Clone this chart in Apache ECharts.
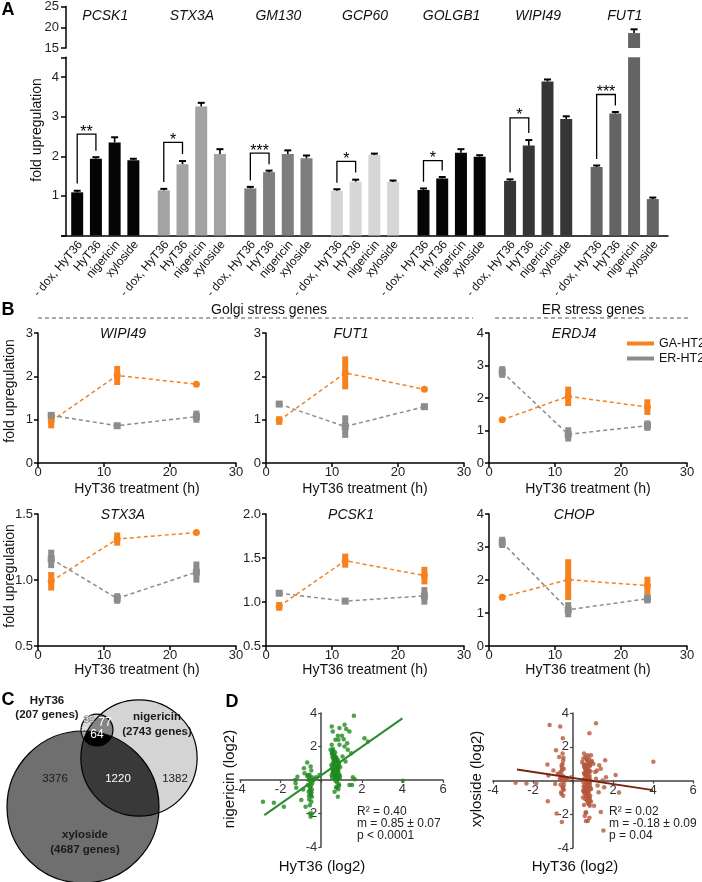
<!DOCTYPE html>
<html><head><meta charset="utf-8">
<script src="https://cdn.jsdelivr.net/npm/echarts@6/dist/echarts.min.js"></script>
<style>html,body{margin:0;padding:0;background:#fff}#c{width:702px;height:882px}</style>
</head><body><div id="c"></div>
<script>
const FONT = '"Liberation Sans", Arial, Helvetica, sans-serif';

// ---------------- Panel A data ----------------
const genesA = ['PCSK1','STX3A','GM130','GCP60','GOLGB1','WIPI49','FUT1'];
const conditionsA = ['- dox, HyT36','HyT36','nigericin','xyloside'];
const doxHyT36     = [1.09,1.14,1.19,1.13,1.15,1.38,1.73];
const doxHyT36Err  = [0.04,0.03,0.02,0.02,0.03,0.03,0.02];
const hyT36        = [1.94,1.80,1.60,1.36,1.44,2.27,3.08];
const hyT36Err     = [0.02,0.08,0.02,0.05,0.02,0.14,0.02];
const nigericin    = [2.35,3.26,2.06,2.03,2.09,3.89,18.6];
const nigericinErr = [0.13,0.09,0.09,0.01,0.09,0.05,0.9];
const xyloside     = [1.90,2.06,1.95,1.35,1.99,2.94,0.92];
const xylosideErr  = [0.02,0.12,0.07,0.02,0.03,0.07,0.02];
const sigStars     = ['**','*','***','*','*','*','***'];
const bracketTop   = [2.56,2.35,2.08,1.87,1.89,2.97,3.56];
const geneColorsA  = ['#050505','#a3a3a3','#7e7e7e','#d6d6d6','#050505','#363636','#646464'];

// ---------------- Panel B data ----------------
const timesB = [2, 12, 24];
const genesB = ['WIPI49','FUT1','ERDJ4','STX3A','PCSK1','CHOP'];
const gaMean = [[0.97,2.02,1.82],[0.98,2.08,1.70],[1.33,2.05,1.72],[0.99,1.31,1.36],[0.95,1.47,1.30],[1.48,2.01,1.83]];
const gaErr  = [[0.17,0.22,0],[0.10,0.38,0],[0,0.30,0.24],[0.07,0.05,0],[0.05,0.08,0.10],[0,0.62,0.27]];
const erMean = [[1.10,0.86,1.07],[1.36,0.84,1.30],[2.80,0.88,1.15],[1.16,0.86,1.06],[1.10,1.01,1.07],[3.14,1.10,1.43]];
const erErr  = [[0.06,0,0.14],[0,0.26,0],[0.18,0.22,0.16],[0.07,0.04,0.08],[0,0,0.10],[0.17,0.23,0.14]];
const yMinB = [0,0,0,0.5,0.5,0];
const yMaxB = [3,3,4,1.5,2,4];
const yIntB = [1,1,1,0.5,0.5,1];
const seriesNamesB = ['GA-HT2','ER-HT2'];

// ---------------- Panel C data ----------------
const vennSets   = ['HyT36','nigericin','xyloside'];
const vennTotals = [207, 2743, 4687];
const vennRegionLabels = ['39','77','64','27','3376','1220','1382'];

// ---------------- Panel D data ----------------
const hytLog2 = [
 -2.87,-2.33,-1.84,-1.28,-1.26,-1.23,-1.17,-0.98,-0.89,-0.85,-0.82,-0.77,-0.69,-0.64,-0.51,-0.56,
 -0.52,-0.49,-0.57,-0.46,-0.62,-0.52,-0.44,-0.66,-0.56,-0.46,-0.62,-0.52,-0.46,-0.59,-0.49,-0.56,-0.46,-0.52,-0.69,-0.55,-0.50,-0.60,-0.48,-0.58,
 -0.39,-0.33,-0.25,-0.08,
 0.52,0.57,0.90,1.15,1.23,1.39,1.61,0.82,1.02,0.70,0.85,1.11,1.28,0.52,0.90,1.15,1.31,0.46,2.13,2.30,1.48,1.52,1.39,1.56,1.65,0.74,0.82,0.66,4.02,1.05,1.20,
 0.55,0.62,0.70,0.78,0.85,0.60,0.66,0.74,0.81,0.58,
 0.64,0.72,0.79,0.88,0.52,0.68,0.75,0.83,0.57,0.63,
 0.71,0.77,0.86,0.50,0.61,0.69,0.76,0.84,0.59,0.65,
 0.73,0.80,0.92,0.54,0.67,0.70,0.78,0.87,0.56,0.62,
 0.74,0.82,0.60,0.68,0.76,0.84,0.53,0.64,0.72,0.79,
 0.58,0.66,0.73,0.81,0.90,0.55,0.63,0.70,0.77,0.85,
 0.61,0.69,0.75,0.83,0.57,0.65,0.71,0.78,0.88,0.52,
 0.60,0.67,0.74,0.80,0.94,0.56,0.64,0.72,0.79,0.86,
 0.59,0.66,0.73,0.82,0.62,0.70,0.76,0.84,0.58,0.68
];
const nigLog2 = [
 -1.30,-1.36,-1.60,0.00,-0.20,-0.46,0.20,-1.20,-0.56,0.70,0.40,-1.60,1.04,0.30,-0.90,-2.00,
 0.80,0.56,0.30,0.16,0.00,-0.10,-0.20,-0.30,-0.44,-0.56,-0.70,-0.84,-1.00,-1.16,-1.30,-1.50,-2.00,-2.20,0.24,-0.60,-0.35,-0.95,-0.75,0.10,
 0.00,0.04,0.16,0.30,
 3.20,2.90,3.10,3.30,3.04,2.90,3.84,2.64,2.64,2.40,2.40,2.44,2.20,2.10,2.10,2.00,1.80,1.80,2.50,2.30,1.60,-0.30,-0.30,0.16,0.05,-0.44,-1.00,-0.70,-0.04,1.40,1.10,
 1.62,1.45,1.30,1.18,1.05,0.95,0.88,0.80,0.72,0.65,
 0.58,0.50,0.42,0.35,0.28,0.20,0.12,0.05,1.55,1.40,
 1.25,1.10,1.00,0.90,0.82,0.75,0.68,0.60,0.52,0.45,
 0.38,0.30,0.22,0.15,0.08,-0.05,-0.15,-0.25,1.70,1.50,
 1.35,1.20,1.08,0.98,0.85,0.78,0.70,0.62,0.55,0.48,
 0.40,0.32,0.25,0.18,0.10,1.38,1.22,1.12,1.02,0.92,
 0.83,0.73,0.63,0.53,0.43,0.33,0.23,0.13,-0.35,1.58,
 1.28,1.15,0.97,0.87,0.77,0.67,0.57,0.47,0.37,0.27,
 1.75,1.48,1.33,0.93,0.76,0.56,-0.45,-0.55,1.85,1.65
];
const xylLog2 = [
 -0.14,-0.18,-0.18,0.95,-1.23,0.30,3.29,0.60,-0.20,1.80,-1.96,0.40,1.40,3.20,2.50,-2.46,
 1.60,1.20,0.90,0.70,0.50,0.30,0.20,0.10,0.00,-0.10,-0.25,-0.40,-0.55,-0.70,-0.90,0.75,-0.30,1.00,0.40,0.60,-0.50,0.15,1.35,-0.80,
 0.05,0.15,0.10,0.20,
 -0.60,0.40,1.50,3.39,-0.30,0.70,1.20,2.80,1.00,0.90,-1.20,0.50,-0.70,1.30,-0.50,0.10,0.91,1.10,0.32,-0.71,0.00,-2.96,-1.87,-0.40,0.20,-2.40,-2.20,-1.90,1.11,-1.50,0.60,
 1.60,1.40,1.20,1.05,0.90,0.80,0.70,0.60,0.50,0.40,
 0.30,0.20,0.10,0.00,-0.10,-0.20,-0.30,-0.40,-0.50,-0.60,
 -0.70,-0.80,-0.90,-1.00,-1.10,-1.20,-1.35,-1.50,-2.10,-2.40,
 1.50,1.30,1.10,0.95,0.85,0.75,0.65,0.55,0.45,0.35,
 0.25,0.15,0.05,-0.05,-0.15,-0.25,-0.35,-0.45,-0.55,-0.65,
 -0.75,-0.85,-0.95,-1.05,-1.25,-1.45,-1.90,1.25,1.00,0.88,
 0.72,0.58,0.42,0.28,0.12,-0.02,-0.18,-0.32,-0.48,-0.62,
 -0.78,-0.92,-1.15,-1.40,1.15,0.82,0.62,0.38,0.18,-0.08,
 -0.28,-0.52,-0.72,-1.02,0.68,0.32,-0.12,-0.42,0.95,0.48
];
const nigFitLine = [[-2.8,-2.10],[4.0,3.68]];
const xylFitLine = [[-2.8,0.65],[4.0,-0.57]];
const nigStats = ['R\u00B2 = 0.40','m = 0.85 \u00B1 0.07','p < 0.0001'];
const xylStats = ['R\u00B2 = 0.02','m = -0.18 \u00B1 0.09','p = 0.04'];

// ================= build chart =================
const chart = echarts.init(document.getElementById('c'), null, {renderer:'canvas', width:702, height:882});
const grid = [], xAxis = [], yAxis = [], series = [], graphic = [];

function tstyle(text, size, opts) {
  opts = opts || {};
  const font = (opts.italic ? 'italic ' : '') + (opts.bold ? 'bold ' : '') + size + 'px ' + FONT;
  const al = opts.align || 'center', va = opts.va || 'middle';
  const st = {text: text, fill: opts.color || '#111', font: font, align: al, verticalAlign: va, textAlign: al, textVerticalAlign: va};
  if (opts.stroke) { st.stroke = opts.stroke; st.lineWidth = opts.strokeWidth || 1; }
  return st;
}
function gtext(text, x, y, size, opts) {
  opts = opts || {};
  return {type:'text', x: x, y: y, rotation: opts.rot || 0, silent: true, z: 100, style: tstyle(text, size, opts)};
}

const BLACK_LINE = {show:true, onZero:false, lineStyle:{color:'#000', width:1.5}};
const BLACK_TICK = {show:true, length:5, lineStyle:{color:'#000', width:1.5}};

// ---------- Panel A ----------
const BAR_W = 12, BAR_STEP = 18.72;
const A_LEFT = 62, A_WIDTH = 606;
grid.push({left:A_LEFT, top:4, width:A_WIDTH, height:44});       // 0 (upper, broken part)
grid.push({left:A_LEFT, top:57.3, width:A_WIDTH, height:178.2}); // 1 (lower)
xAxis.push({gridIndex:0, type:'category', data:genesA, position:'top',
  axisLine:{show:false}, axisTick:{show:false},
  axisLabel:{inside:true, margin:3, fontSize:14, fontStyle:'italic', color:'#111', fontFamily:FONT}});
yAxis.push({gridIndex:0, type:'value', min:15, max:25, interval:5, offset:-4,
  axisLine:BLACK_LINE, axisTick:BLACK_TICK, splitLine:{show:false},
  axisLabel:{fontSize:13, color:'#222', margin:7, fontFamily:FONT}});
xAxis.push({gridIndex:1, type:'category', data:genesA,
  axisLine:BLACK_LINE, axisTick:{show:false}, axisLabel:{show:false}});
yAxis.push({gridIndex:1, type:'value', min:0, max:4.5, interval:1, offset:-4,
  axisLine:BLACK_LINE, axisTick:BLACK_TICK, splitLine:{show:false},
  axisLabel:{fontSize:13, color:'#222', margin:7, fontFamily:FONT,
    formatter: v => (v >= 1 && v <= 4) ? String(v) : ''}});

const condValues = [doxHyT36, hyT36, nigericin, xyloside];
const condErrs = [doxHyT36Err, hyT36Err, nigericinErr, xylosideErr];
[0,1].forEach(g => {
  condValues.forEach((vals, i) => {
    series.push({type:'bar', name:conditionsA[i], xAxisIndex:g, yAxisIndex:g, data:vals,
      barWidth:BAR_W, barGap:'56%', clip:true, silent:true,
      itemStyle:{color: p => geneColorsA[p.dataIndex]}});
  });
  const errData = [];
  condValues.forEach((vals, i) => vals.forEach((v, j) => {
    if ((g === 0) === (v > 15)) errData.push([j, v, condErrs[i][j], i]);
  }));
  series.push({type:'custom', xAxisIndex:g, yAxisIndex:g, data:errData, encode:{x:0, y:1}, silent:true, z:5,
    renderItem: (params, api) => {
      const j = api.value(0), v = api.value(1), e = api.value(2), i = api.value(3);
      const p = api.coord([j, v]), pt = api.coord([j, v + e]);
      const x = p[0] + (i - 1.5) * BAR_STEP;
      const top = Math.min(pt[1], p[1] - 1.5);
      return {type:'group', children:[
        {type:'line', shape:{x1:x, y1:p[1], x2:x, y2:top}, style:{stroke:'#000', lineWidth:1.6}},
        {type:'line', shape:{x1:x-3.5, y1:top, x2:x+3.5, y2:top}, style:{stroke:'#000', lineWidth:2}}
      ]};
    }});
});
// significance brackets
series.push({type:'custom', xAxisIndex:1, yAxisIndex:1, silent:true, z:6, encode:{x:0, y:1},
  data: genesA.map((g, j) => [j, bracketTop[j], doxHyT36[j] + doxHyT36Err[j] + 0.18, hyT36[j] + hyT36Err[j] + 0.18]),
  renderItem: (params, api) => {
    const j = api.value(0);
    const top = api.coord([j, api.value(1)]);
    const lb = api.coord([j, api.value(2)]);
    const rb = api.coord([j, api.value(3)]);
    const x0 = top[0] - 1.5 * BAR_STEP, x1 = top[0] - 0.5 * BAR_STEP;
    return {type:'group', children:[
      {type:'polyline', shape:{points:[[x0, lb[1]],[x0, top[1]],[x1, top[1]],[x1, rb[1]]]}, style:{stroke:'#000', lineWidth:1.3, fill:null}},
      {type:'text', x:(x0 + x1) / 2, y: top[1] - 2, style: tstyle(sigStars[j], 16, {color:'#000'})}
    ]};
  }});
// condition labels under bars
const condLabelData = [];
genesA.forEach((g, j) => conditionsA.forEach((c, i) => condLabelData.push([j, 0, i])));
series.push({type:'custom', xAxisIndex:1, yAxisIndex:1, silent:true, z:6, encode:{x:0, y:1},
  data: condLabelData,
  renderItem: (params, api) => {
    const j = api.value(0), i = api.value(2);
    const p = api.coord([j, 0]);
    return {type:'text', x: p[0] + (i - 1.5) * BAR_STEP + 3, y: p[1] + 7, rotation: 50 * Math.PI / 180,
      style: tstyle(conditionsA[i], 12, {align:'right', color:'#111'})};
  }});
graphic.push(gtext('A', 8, 10, 18, {bold:true, color:'#000'}));
graphic.push(gtext('fold upregulation', 37, 130, 14, {rot: Math.PI / 2}));

// ---------- Panel B ----------
const bLefts = [38, 266, 489], bTops = [333, 514], bHeights = [130, 132], bWidth = 198;
const colorsB = ['#f5821f', '#8c8c8c'];
genesB.forEach((gname, k) => {
  const gi = grid.length;
  const col = k % 3, row = Math.floor(k / 3);
  grid.push({left:bLefts[col], top:bTops[row], width:bWidth, height:bHeights[row]});
  xAxis.push({gridIndex:gi, type:'value', min:0, max:30, interval:10,
    name:'HyT36 treatment (h)', nameLocation:'middle', nameGap: row === 0 ? 19 : 17,
    nameTextStyle:{fontSize:14, color:'#111', fontFamily:FONT},
    axisLine:BLACK_LINE, axisTick:{show:true, length:4, lineStyle:{color:'#000', width:1.5}}, splitLine:{show:false},
    axisLabel:{fontSize:13, color:'#222', margin:3, fontFamily:FONT}});
  yAxis.push({gridIndex:gi, type:'value', min:yMinB[k], max:yMaxB[k], interval:yIntB[k],
    axisLine:BLACK_LINE, axisTick:{show:true, length:4, lineStyle:{color:'#000', width:1.5}}, splitLine:{show:false},
    axisLabel:{fontSize:13, color:'#222', margin:5, fontFamily:FONT,
      formatter: v => yIntB[k] < 1 ? v.toFixed(1) : String(v)}});
  const means = [gaMean[k], erMean[k]], errs = [gaErr[k], erErr[k]];
  const errData = [];
  [0,1].forEach(s => {
    series.push({type:'line', name:seriesNamesB[s], xAxisIndex:gi, yAxisIndex:gi, color:colorsB[s],
      data: timesB.map((t, m) => [t, means[s][m]]),
      symbol: s === 0 ? 'circle' : 'rect', symbolSize: 7, z:3,
      lineStyle:{color:colorsB[s], width:1.5, type:[4,3]}, itemStyle:{color:colorsB[s]}});
    timesB.forEach((t, m) => { if (errs[s][m] > 0) errData.push([t, means[s][m], errs[s][m], s]); });
  });
  series.push({type:'custom', xAxisIndex:gi, yAxisIndex:gi, data:errData, encode:{x:0, y:1}, silent:true, z:2,
    renderItem: (params, api) => {
      const t = api.value(0), v = api.value(1), e = api.value(2), s = api.value(3);
      const hi = api.coord([t, v + e]), lo = api.coord([t, v - e]);
      return {type:'rect', shape:{x: hi[0] - 3, y: hi[1], width: 6, height: lo[1] - hi[1]}, style:{fill: colorsB[s]}};
    }});
  graphic.push(gtext(gname, bLefts[col] + bWidth / 2 - 14, bTops[row] + 1, 14, {italic:true}));
});
graphic.push(gtext('B', 8, 310, 18, {bold:true, color:'#000'}));
graphic.push(gtext('fold upregulation', 10, 391, 14, {rot: Math.PI / 2}));
graphic.push(gtext('fold upregulation', 10, 576, 14, {rot: Math.PI / 2}));
graphic.push(gtext('Golgi stress genes', 269, 310, 14));
graphic.push(gtext('ER stress genes', 593, 310, 14));
graphic.push({type:'line', silent:true, shape:{x1:38, y1:318, x2:473, y2:318}, style:{stroke:'#555', lineWidth:1, lineDash:[4,3]}});
graphic.push({type:'line', silent:true, shape:{x1:495, y1:318, x2:688, y2:318}, style:{stroke:'#555', lineWidth:1, lineDash:[4,3]}});

// ---------- Panel C (Venn) ----------
const vennGi = grid.length;
grid.push({left:0, top:690, width:220, height:192});
xAxis.push({gridIndex:vennGi, type:'value', min:0, max:220, show:false});
yAxis.push({gridIndex:vennGi, type:'value', min:0, max:192, inverse:true, show:false});
const VENN_K = 1.11;                                  // radius scale: r = K * sqrt(count)
const vennCenters = [[97,40],[139,68],[83,117]];      // layout of the three circles
function interPoly(cs, n) {
  let best = null, bestM = -Infinity;
  const c0 = cs[0];
  for (let a = -1; a <= 1; a += 0.04) for (let b = -1; b <= 1; b += 0.04) {
    const x = c0.cx + a * c0.r, y = c0.cy + b * c0.r;
    let m = Infinity;
    cs.forEach(c => { m = Math.min(m, c.r - Math.hypot(x - c.cx, y - c.cy)); });
    if (m > bestM) { bestM = m; best = [x, y]; }
  }
  if (bestM <= 0) return null;
  const pts = [];
  for (let k = 0; k < n; k++) {
    const th = 2 * Math.PI * k / n, dx = Math.cos(th), dy = Math.sin(th);
    let tmin = Infinity;
    cs.forEach(c => {
      const ox = best[0] - c.cx, oy = best[1] - c.cy;
      const b = dx * ox + dy * oy, cc = ox * ox + oy * oy - c.r * c.r;
      tmin = Math.min(tmin, -b + Math.sqrt(b * b - cc));
    });
    pts.push([best[0] + dx * tmin, best[1] + dy * tmin]);
  }
  return pts;
}
series.push({type:'custom', xAxisIndex:vennGi, yAxisIndex:vennGi, data:[[0,0]], silent:true, z:2,
  renderItem: (params, api) => {
    const circ = vennCenters.map((c, k) => {
      const p = api.coord(c);
      return {cx:p[0], cy:p[1], r: api.size([VENN_K * Math.sqrt(vennTotals[k]), 0])[0]};
    });
    const [H, N, X] = circ;
    const kids = [];
    const disc = (c, fill) => ({type:'circle', shape:{cx:c.cx, cy:c.cy, r:c.r}, style:{fill:fill}});
    const poly = (cs, fill) => { const pts = interPoly(cs, 360); if (pts) kids.push({type:'polygon', shape:{points:pts}, style:{fill:fill}}); };
    kids.push(disc(X, '#6f6f6f'));
    kids.push(disc(N, '#d4d4d4'));
    poly([N, X], '#393939');
    kids.push(disc(H, '#d8d8d8'));
    poly([H, N], '#858585');
    poly([H, X], '#a8a8a8');
    poly([H, N, X], '#000000');
    circ.forEach(c => kids.push({type:'circle', shape:{cx:c.cx, cy:c.cy, r:c.r}, style:{fill:null, stroke:'#000', lineWidth:1.2}}));
    const T = (text, x, y, size, opts) => { const p = api.coord([x, y]); kids.push({type:'text', x:p[0], y:p[1], style:tstyle(text, size, opts)}); };
    T(vennRegionLabels[0], 89, 30, 9, {color:'#fff', stroke:'#777', strokeWidth:1.5});
    T(vennRegionLabels[1], 105, 33, 12, {color:'#fff'});
    T(vennRegionLabels[2], 97, 45, 12, {color:'#fff'});
    T(vennRegionLabels[3], 84, 40, 5, {color:'#eee'});
    T(vennRegionLabels[4], 55, 89, 11.5, {color:'#1a1a1a'});
    T(vennRegionLabels[5], 118, 89, 11.5, {color:'#fff'});
    T(vennRegionLabels[6], 175, 89, 11.5, {color:'#1a1a1a'});
    T(vennSets[0], 47, 11, 11.5, {bold:true, color:'#1a1a1a'});
    T('(' + vennTotals[0] + ' genes)', 47, 25, 11.5, {bold:true, color:'#1a1a1a'});
    T(vennSets[1], 157, 27, 11.5, {bold:true, color:'#1a1a1a'});
    T('(' + vennTotals[1] + ' genes)', 157, 42, 11.5, {bold:true, color:'#1a1a1a'});
    T(vennSets[2], 85, 145, 11.5, {bold:true, color:'#1a1a1a'});
    T('(' + vennTotals[2] + ' genes)', 85, 160, 11.5, {bold:true, color:'#1a1a1a'});
    return {type:'group', children:kids};
  }});
graphic.push(gtext('C', 8, 700, 18, {bold:true, color:'#000'}));

// ---------- Panel D ----------
const dGrids = [{left:240, top:713, width:203, height:134}, {left:493, top:713, width:200, height:135}];
const dXRange = [-4, 6], dYRange = [-4, 4];
const dY = [nigLog2, xylLog2];
const dFit = [nigFitLine, xylFitLine];
const dPtColor = ['#1f8a1f', '#b4583c'];
const dLineColor = ['#2b8c2b', '#7a2410'];
const dStats = [nigStats, xylStats];
const dYName = ['nigericin (log2)', 'xyloside (log2)'];
const GRAY_LINE = {show:true, onZero:false, lineStyle:{color:'#444', width:1.5}};
dGrids.forEach((gd, d) => {
  const gi = grid.length;
  grid.push(gd);
  // axes cross at zero: shift each axis from the grid edge to the zero of the other axis
  const xOff = -gd.height * (0 - dYRange[0]) / (dYRange[1] - dYRange[0]);
  const yOff = -gd.width * (0 - dXRange[0]) / (dXRange[1] - dXRange[0]);
  xAxis.push({gridIndex:gi, type:'value', min:dXRange[0], max:dXRange[1], interval:2, position:'bottom', offset:xOff,
    axisLine:GRAY_LINE, axisTick:{show:true, length:3, lineStyle:{color:'#444', width:1.2}}, splitLine:{show:false},
    axisLabel:{fontSize:13, color:'#333', margin:3, fontFamily:FONT, formatter: v => v === 0 ? '' : String(v)}});
  yAxis.push({gridIndex:gi, type:'value', min:dYRange[0], max:dYRange[1], interval:2, position:'left', offset:yOff,
    axisLine:GRAY_LINE, axisTick:{show:true, length:3, lineStyle:{color:'#444', width:1.2}}, splitLine:{show:false},
    axisLabel:{fontSize:13, color:'#333', margin:4, fontFamily:FONT, formatter: v => v === 0 ? '' : String(v)}});
  series.push({type:'scatter', xAxisIndex:gi, yAxisIndex:gi, symbolSize:4.5, silent:true, z:3,
    itemStyle:{color:dPtColor[d]}, data: hytLog2.map((h, k) => [h, dY[d][k]])});
  series.push({type:'line', xAxisIndex:gi, yAxisIndex:gi, data:dFit[d], symbol:'none', silent:true, z:4,
    lineStyle:{color:dLineColor[d], width:2}});
  const sx = d === 0 ? 357 : 609;
  dStats[d].forEach((s, m) => graphic.push(gtext(s, sx, 812 + m * 11.7, 12, {align:'left', color:'#222'})));
  graphic.push(gtext(dYName[d], d === 0 ? 230 : 477, 779, 15, {rot: Math.PI / 2}));
  graphic.push(gtext('HyT36 (log2)', d === 0 ? 322 : 575, 867, 15));
});
graphic.push(gtext('D', 232, 702, 18, {bold:true, color:'#000'}));

chart.setOption({
  animation:false,
  backgroundColor:'#fff',
  textStyle:{fontFamily:FONT},
  grid: grid, xAxis: xAxis, yAxis: yAxis, series: series, graphic: graphic,
  legend:{data:seriesNamesB, orient:'vertical', left:622, top:332, itemWidth:27, itemHeight:4, itemGap:2,
    icon:'rect', selectedMode:false, textStyle:{fontSize:12.5, color:'#111', fontFamily:FONT}}
});
</script>
</body></html>
